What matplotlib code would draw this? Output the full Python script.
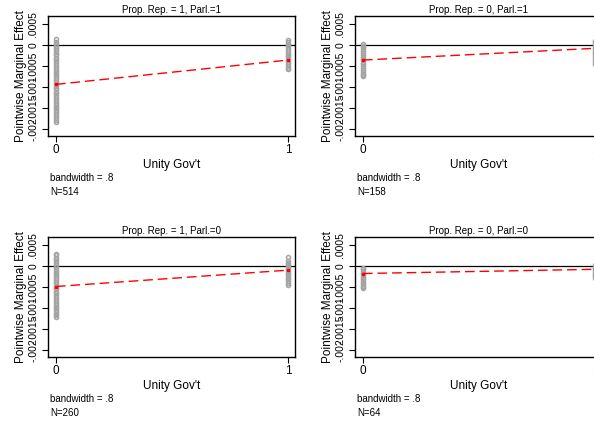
import matplotlib
matplotlib.use("Agg")
import matplotlib.pyplot as plt

plt.rcParams["font.family"] = ["Liberation Sans", "DejaVu Sans"]

# values, in units of 1e-4
titles = ["Prop. Rep. = 1, Parl.=1", "Prop. Rep. = 0, Parl.=1",
          "Prop. Rep. = 1, Parl.=0", "Prop. Rep. = 0, Parl.=0"]
n_obs = [514, 158, 260, 64]

pr1_parl1_x0 = [1.4, 0.6, 0.2, -0.3, -0.7, -1.2, -1.6, -2.1, -2.5, -3.0, -3.4, -3.9,
                -4.3, -4.8, -5.2, -5.7, -6.1, -6.6, -7.0, -7.5, -7.9, -8.4, -8.8,
                -9.3, -9.7, -10.2, -10.6, -11.1, -11.5, -12.0, -12.4, -12.9, -13.3,
                -13.8, -14.2, -14.7, -15.1, -15.6, -16.0, -16.5, -16.9, -17.4,
                -17.8, -18.3]
pr1_parl1_x1 = [1.2, 0.7, 0.3, -0.1, -0.5, -0.9, -1.4, -1.8, -2.3, -2.7, -3.2, -3.6,
                -4.1, -4.5, -5.0, -5.4, -5.7]
pr0_parl1_x0 = [0.2, -0.2, -0.6, -1.0, -1.5, -1.9, -2.4, -2.8, -3.3, -3.7, -4.2,
                -4.6, -5.1, -5.5, -6.0, -6.4, -6.9, -7.2, -7.5]
pr0_parl1_x1 = [1.0, 0.6, 0.2, -0.2, -0.7, -1.1, -1.6, -2.0, -2.5, -2.9, -3.4,
                -3.8, -4.2, -4.5]
pr1_parl0_x0 = [2.9, 2.5, 2.0, 1.6, 1.1, 0.7, 0.2, -0.2, -0.7, -1.1, -1.6, -2.0,
                -2.5, -2.9, -3.4, -3.8, -4.3, -4.7, -5.2, -5.6, -6.1, -6.5, -7.0,
                -7.4, -7.9, -8.3, -8.8, -9.2, -9.7, -10.1, -10.6, -11.0, -11.5,
                -11.8, -12.1]
pr1_parl0_x1 = [2.2, 1.2, 0.8, 0.4, 0.0, -0.4, -0.8, -1.2, -1.6, -2.0, -2.4, -2.8,
                -3.2, -3.6, -4.0, -4.5]
pr0_parl0_x0 = [-0.4, -0.8, -1.2, -1.6, -2.0, -2.4, -2.8, -3.2, -3.6, -4.0, -4.4,
                -4.8, -5.1, -5.3]
pr0_parl0_x1 = [0.2, -0.2, -0.6, -1.0, -1.4, -1.8, -2.2, -2.5, -2.8]

fit_x0 = [-9.4, -3.6, -4.9, -1.8]
fit_x1 = [-3.6, -0.8, -1.0, -0.8]

points_x0 = [pr1_parl1_x0, pr0_parl1_x0, pr1_parl0_x0, pr0_parl0_x0]
points_x1 = [pr1_parl1_x1, pr0_parl1_x1, pr1_parl0_x1, pr0_parl0_x1]

ytick_vals = [-.002, -.0015, -.001, -.0005, 0, .0005]
ytick_labels = ["-.002", "-.0015", "-.001", "-.0005", "0", ".0005"]

W, H = 594, 421
fig = plt.figure(figsize=(W / 100, H / 100), dpi=100)

# axes boxes in pixels: left, top
boxes = [(48, 16), (355, 16), (48, 237), (355, 237)]
aw, ah = 247, 120

for i, (left, top) in enumerate(boxes):
    ax = fig.add_axes([left / W, (H - top - ah) / H, aw / W, ah / H])
    y0 = [v * 1e-4 for v in points_x0[i]]
    y1 = [v * 1e-4 for v in points_x1[i]]
    ax.axhline(0, color="black", lw=0.9, zorder=1)
    ax.plot([0] * len(y0), y0, "o", ms=2.9, mfc="none", mec="#a4a4a4", mew=1.1, zorder=2)
    ax.plot([1] * len(y1), y1, "o", ms=2.9, mfc="none", mec="#a4a4a4", mew=1.1, zorder=2)
    ax.plot([0, 1], [fit_x0[i] * 1e-4, fit_x1[i] * 1e-4], color="red", lw=1,
            dashes=(7, 3.5), marker="s", ms=1.8, zorder=3)

    ax.set_xlim(-0.034, 1.03)
    ax.set_ylim(-0.00217, 0.00069)
    ax.set_xticks([0, 1])
    ax.set_xticklabels(["0", "1"])
    ax.set_yticks(ytick_vals)
    ax.set_yticklabels(ytick_labels, rotation=90, va="center")
    ax.tick_params(axis="x", length=4, width=0.8, labelsize=8.5, pad=2)
    ax.tick_params(axis="y", length=4, width=0.8, labelsize=7.5, pad=3)
    for s in ax.spines.values():
        s.set_linewidth(1.0)
    ax.set_title(titles[i], fontsize=7, pad=2.5)
    ax.set_xlabel("Unity Gov't", fontsize=8.5, labelpad=2)
    ax.set_ylabel("Pointwise Marginal Effect", fontsize=8.5, labelpad=1)

    fig.text((left + 2) / W, (H - top - 162) / H, "bandwidth = .8", fontsize=7, va="center")
    fig.text((left + 2) / W, (H - top - 176) / H, "N=%d" % n_obs[i], fontsize=7, va="center")

fig.savefig("out.png", dpi=100)
